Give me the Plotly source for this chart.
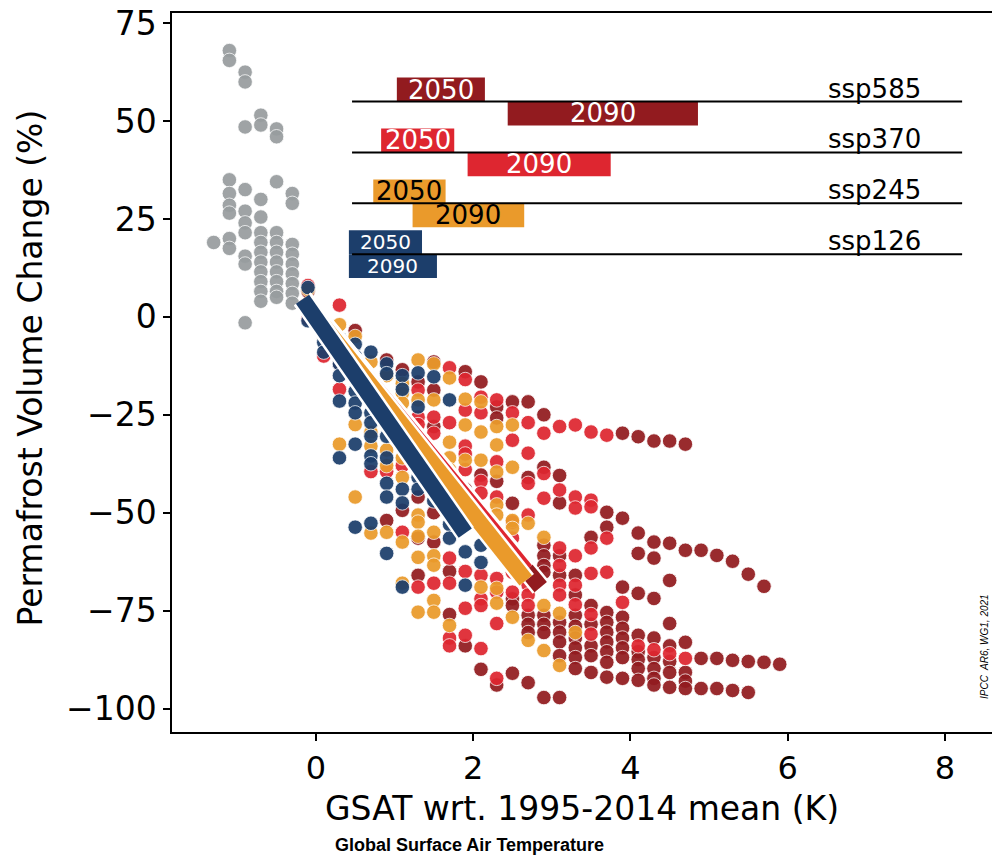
import plotly.graph_objects as go

# ---------------- data ----------------
hist_pts = [(-1.3, 19),
            (-1.1, 68), (-1.1, 65.5), (-1.1, 35), (-1.1, 31.5), (-1.1, 28.5), (-1.1, 26.5), (-1.1, 20), (-1.1, 17.5),
            (-0.9, 62.5), (-0.9, 60), (-0.9, 48.5), (-0.9, 32.5), (-0.9, 27), (-0.9, 24), (-0.9, 21.5), (-0.9, 15.5), (-0.9, 13.5), (-0.9, -1.5),
            (-0.7, 51.5), (-0.7, 49), (-0.7, 30), (-0.7, 25.5), (-0.7, 21.5), (-0.7, 19), (-0.7, 16.5), (-0.7, 14), (-0.7, 11.5), (-0.7, 9), (-0.7, 6.5), (-0.7, 4),
            (-0.5, 48), (-0.5, 46), (-0.5, 34.5), (-0.5, 21.5), (-0.5, 19), (-0.5, 16.5), (-0.5, 14), (-0.5, 11.5), (-0.5, 9), (-0.5, 6.5), (-0.5, 5),
            (-0.3, 31.5), (-0.3, 29), (-0.3, 18.5), (-0.3, 16), (-0.3, 13.5), (-0.3, 11), (-0.3, 8.5), (-0.3, 6), (-0.3, 3.5)]

ssp585_pts = [(-0.1, 6.5), (0.1, -3), (0.3, -12), (0.5, -3.5), (0.9, -11), (0.9, -52),
              (1.1, -13.5), (1.1, -49.4), (1.3, -16.6), (1.3, -46), (1.3, -56.5), (1.3, -66),
              (1.5, -11.5), (1.5, -18.7), (1.5, -28), (1.5, -50), (1.5, -57.5), (1.7, -65), (1.7, -76),
              (1.9, -14), (1.9, -84), (1.9, -44), (2.1, -16.6), (2.1, -40.4), (2.1, -90),
              (2.3, -23), (2.3, -25.8), (2.3, -94), (2.3, -42),
              (2.5, -21.7), (2.5, -47.6), (2.5, -72), (2.5, -73.7), (2.5, -91),
              (2.7, -21.7), (2.7, -41), (2.7, -76.2), (2.7, -78.5), (2.7, -80.6), (2.7, -93.4),
              (2.9, -25), (2.9, -38.4), (2.9, -58.3), (2.9, -61), (2.9, -63.5), (2.9, -65.2), (2.9, -76.2), (2.9, -78.5), (2.9, -80.6), (2.9, -97.2),
              (3.1, -40.5), (3.1, -47.5), (3.1, -61), (3.1, -66), (3.1, -78), (3.1, -80.5), (3.1, -83), (3.1, -86.5), (3.1, -97.2),
              (3.3, -66), (3.3, -71), (3.3, -76.2), (3.3, -79), (3.3, -82), (3.3, -84.5), (3.3, -87), (3.3, -89.8),
              (3.5, -56.3), (3.5, -73.7), (3.5, -78.5), (3.5, -84), (3.5, -86.5), (3.5, -90.8),
              (3.7, -49.9), (3.7, -53.7), (3.7, -75.5), (3.7, -78), (3.7, -80.5), (3.7, -83), (3.7, -85.5), (3.7, -88.2), (3.7, -92),
              (3.9, -29.7), (3.9, -51.4), (3.9, -69), (3.9, -76.7), (3.9, -79.5), (3.9, -82), (3.9, -84.5), (3.9, -87), (3.9, -92.3),
              (4.1, -30.6), (4.1, -55.2), (4.1, -60.4), (4.1, -70.6), (4.1, -81.3), (4.1, -85.5), (4.1, -87.5), (4.1, -89.8), (4.1, -92.8),
              (4.3, -31.7), (4.3, -57.5), (4.3, -61.6), (4.3, -71.9), (4.3, -82), (4.3, -87), (4.3, -89.8), (4.3, -92.3), (4.3, -94),
              (4.5, -31.7), (4.5, -57.8), (4.5, -67.3), (4.5, -78.3), (4.5, -84), (4.5, -88), (4.5, -90.8), (4.5, -94.6),
              (4.7, -32.5), (4.7, -59.6), (4.7, -83.1), (4.7, -90.8), (4.7, -93), (4.7, -94.9),
              (4.9, -59.6), (4.9, -87.2), (4.9, -94.9), (5.1, -60.9), (5.1, -87.2), (5.1, -94.9),
              (5.3, -62.4), (5.3, -87.7), (5.3, -95.4), (5.5, -65.7), (5.5, -88), (5.5, -95.9),
              (5.7, -68.8), (5.7, -88.2), (5.9, -88.7)]

ssp370_pts = [(-0.1, 8), (-0.1, -0.5), (0.1, -10), (0.3, 3), (0.3, -18.5), (0.7, -39.5), (0.9, -39.5),
              (1.1, -38), (1.1, -55), (1.3, -18.7), (1.3, -25.6), (1.3, -27.5), (1.3, -69),
              (1.5, -25.6), (1.5, -29.7), (1.5, -68), (1.5, -40),
              (1.7, -13), (1.7, -27), (1.7, -61.6), (1.7, -68), (1.7, -82), (1.7, -84), (1.7, -42),
              (1.9, -16), (1.9, -23.8), (1.9, -33), (1.9, -35), (1.9, -39), (1.9, -65), (1.9, -74.4), (1.9, -81.3),
              (2.1, -20.5), (2.1, -24.5), (2.1, -42), (2.1, -66), (2.1, -72), (2.1, -73.7), (2.1, -84.7), (2.1, -45),
              (2.3, -21.2), (2.3, -37), (2.3, -46), (2.3, -66.8), (2.3, -70.3), (2.3, -78.3), (2.3, -92.3),
              (2.5, -24.5), (2.5, -31.5), (2.5, -52.4), (2.5, -56.5), (2.5, -59), (2.5, -62), (2.5, -65.2), (2.5, -70.3),
              (2.7, -27), (2.7, -34.8), (2.7, -42.5), (2.7, -50.6), (2.7, -68.5), (2.7, -71), (2.7, -73.7),
              (2.9, -29.7), (2.9, -40), (2.9, -46.3),
              (3.1, -28), (3.1, -44.2), (3.1, -59), (3.1, -63.5), (3.1, -68.5), (3.1, -71),
              (3.3, -27.6), (3.3, -46), (3.3, -48.8), (3.3, -61), (3.3, -68.5), (3.3, -73.5),
              (3.5, -29.4), (3.5, -46.8), (3.5, -48.5), (3.5, -59), (3.5, -65.5), (3.5, -76), (3.5, -81),
              (3.7, -30.2), (3.7, -56.5), (3.7, -65.2), (3.9, -72.9),
              (4.1, -84), (4.3, -85), (4.5, -86), (4.7, -87.2)]

ssp245_pts = [(-0.1, 7), (0.1, -5), (0.3, -2), (0.3, -32.5), (0.5, -5), (0.5, -27.5), (0.5, -46),
              (0.7, -11.5), (0.7, -29.5), (0.7, -33), (0.7, -55.2),
              (0.9, -15), (0.9, -34), (0.9, -38), (0.9, -55),
              (1.1, -17), (1.1, -19.5), (1.1, -22), (1.1, -36), (1.1, -41), (1.1, -57.5), (1.1, -68),
              (1.3, -11), (1.3, -21.2), (1.3, -50.6), (1.3, -52.4), (1.3, -56), (1.3, -61.4), (1.3, -75.4),
              (1.5, -12), (1.5, -21.2), (1.5, -55), (1.5, -61), (1.5, -63.4), (1.5, -72.4), (1.5, -75.4),
              (1.7, -15.6), (1.7, -32), (1.7, -36), (1.7, -78.8), (1.7, -39),
              (1.9, -21), (1.9, -27.6), (1.9, -36.6),
              (2.1, -21.7), (2.1, -29.4), (2.1, -36.6), (2.1, -69),
              (2.3, -28), (2.3, -32.7), (2.3, -39.6), (2.3, -48), (2.3, -50.6), (2.3, -69.3), (2.3, -73.1),
              (2.5, -27.6), (2.5, -38.4), (2.5, -52), (2.5, -54), (2.5, -76.7),
              (2.7, -52.7), (2.7, -82.6), (2.9, -56.3), (2.9, -73.7), (2.9, -85.2),
              (3.1, -75.7), (3.1, -89), (3.3, -80.6)]

ssp126_pts = [(-0.1, 7.5), (-0.1, -1), (0.1, -4), (0.1, -6.5), (0.1, -9),
              (0.3, -5.5), (0.3, -9), (0.3, -12), (0.3, -15), (0.3, -21.5), (0.3, -36),
              (0.5, -7), (0.5, -10), (0.5, -13), (0.5, -16), (0.5, -19), (0.5, -22), (0.5, -24.5), (0.5, -32.5), (0.5, -53.7),
              (0.7, -9), (0.7, -24.5), (0.7, -27), (0.7, -30.5), (0.7, -35.5), (0.7, -37.5), (0.7, -52.7),
              (0.9, -12), (0.9, -14.5), (0.9, -27), (0.9, -30.5), (0.9, -36), (0.9, -42.5), (0.9, -46), (0.9, -60.4),
              (1.1, -15), (1.1, -18.5), (1.1, -44), (1.1, -47.5), (1.1, -69),
              (1.3, -14.3), (1.3, -23), (1.3, -41), (1.3, -44),
              (1.5, -15.3), (1.5, -47), (1.7, -21.2), (1.7, -53), (1.7, -56.5),
              (1.9, -60), (1.9, -68.5), (2.1, -58.3), (2.1, -62.7)]

# scenario summary rows (top-right legend boxes)
scenarios = ["ssp585", "ssp370", "ssp245", "ssp126"]
scen_colors = ["#921b1f", "#de2630", "#ea9a2b", "#1c3e6b"]
row_y = [55.0, 42.0, 29.0, 16.0]
box2050_lo = [1.03, 0.83, 0.73, 0.42]
box2050_hi = [2.15, 1.76, 1.65, 1.35]
box2090_lo = [2.44, 1.93, 1.23, 0.42]
box2090_hi = [4.86, 3.75, 2.65, 1.54]
box_text_color = ["white", "white", "black", "white"]
box_font_size = [26, 26, 26, 20]

# regression bars (start / end in data units) per scenario
reg_x0 = [-0.17, -0.17, -0.17, -0.17]
reg_y0 = [4.5, 4.5, 4.5, 4.5]
reg_x1 = [2.86, 2.67, 2.67, 1.90]
reg_y1 = [-69.0, -64.7, -67.3, -55.2]

GREY = "#989d9f"
FONT = "DejaVu Sans"

fig = go.Figure()

def add_pts(pts, color):
    fig.add_trace(go.Scatter(
        x=[p[0] for p in pts], y=[p[1] for p in pts], mode="markers",
        marker=dict(size=14.5, color=color, opacity=0.93, line=dict(color="white", width=0.8)),
        showlegend=False, hoverinfo="skip"))

add_pts(hist_pts, GREY)
add_pts(ssp585_pts, scen_colors[0])
add_pts(ssp370_pts, scen_colors[1])
add_pts(ssp245_pts, scen_colors[2])
add_pts(ssp126_pts, scen_colors[3])

for i in range(4):
    xs = [reg_x0[i], reg_x1[i]]
    ys = [reg_y0[i], reg_y1[i]]
    fig.add_trace(go.Scatter(x=xs, y=ys, mode="lines", line=dict(color="white", width=21),
                             showlegend=False, hoverinfo="skip"))
    fig.add_trace(go.Scatter(x=xs, y=ys, mode="lines", line=dict(color=scen_colors[i], width=16),
                             showlegend=False, hoverinfo="skip"))

shapes = []
annotations = []
BOX_H = 6.1
for i, name in enumerate(scenarios):
    y = row_y[i]
    shapes.append(dict(type="rect", xref="x", yref="y", x0=box2050_lo[i], x1=box2050_hi[i],
                       y0=y, y1=y + BOX_H, fillcolor=scen_colors[i], line=dict(width=0), layer="above"))
    shapes.append(dict(type="rect", xref="x", yref="y", x0=box2090_lo[i], x1=box2090_hi[i],
                       y0=y - BOX_H, y1=y, fillcolor=scen_colors[i], line=dict(width=0), layer="above"))
    shapes.append(dict(type="line", xref="x", yref="y", x0=0.46, x1=8.22, y0=y, y1=y,
                       line=dict(color="black", width=2), layer="above"))
    annotations.append(dict(x=(box2050_lo[i] + box2050_hi[i]) / 2, y=y + BOX_H / 2, xref="x", yref="y",
                            text="2050", showarrow=False,
                            font=dict(family=FONT, size=box_font_size[i], color=box_text_color[i])))
    annotations.append(dict(x=(box2090_lo[i] + box2090_hi[i]) / 2, y=y - BOX_H / 2, xref="x", yref="y",
                            text="2090", showarrow=False,
                            font=dict(family=FONT, size=box_font_size[i], color=box_text_color[i])))
    annotations.append(dict(x=7.1, y=y, xref="x", yref="y", text=name, showarrow=False,
                            yanchor="bottom", yshift=-4,
                            font=dict(family=FONT, size=26, color="black")))

# axis titles and notes
annotations.append(dict(x=0.5, y=0, xref="paper", yref="paper", yshift=-76, yanchor="middle",
                        text="GSAT wrt. 1995-2014 mean (K)", showarrow=False,
                        font=dict(family=FONT, size=33, color="black")))
annotations.append(dict(x=0.363, y=0, xref="paper", yref="paper", yshift=-113, yanchor="middle",
                        text="<b>Global Surface Air Temperature</b>", showarrow=False,
                        font=dict(family="Liberation Sans", size=18, color="black")))
annotations.append(dict(x=0, y=0.5, xref="paper", yref="paper", xshift=-142, yshift=4,
                        xanchor="center", yanchor="middle", textangle=-90,
                        text="Permafrost Volume Change (%)", showarrow=False,
                        font=dict(family=FONT, size=33, color="black")))
annotations.append(dict(x=1, y=0, xref="paper", yref="paper", xshift=-8, yshift=85,
                        xanchor="center", yanchor="middle", textangle=-90,
                        text="<i>IPCC  AR6, WG1, 2021</i>", showarrow=False,
                        font=dict(family="Liberation Sans", size=10, color="black")))

fig.update_layout(
    width=992, height=857,
    margin=dict(l=172, r=0, t=13, b=125),
    paper_bgcolor="white", plot_bgcolor="white",
    shapes=shapes, annotations=annotations,
    xaxis=dict(range=[-1.83, 8.6], tickvals=[0, 2, 4, 6, 8], ticks="outside", ticklen=7, tickwidth=1.5,
               tickcolor="black", showline=True, linecolor="black", linewidth=1.5, mirror=True,
               showgrid=False, zeroline=False, tickfont=dict(family=FONT, size=32, color="black")),
    yaxis=dict(range=[-106.0, 77.6], tickvals=[-100, -75, -50, -25, 0, 25, 50, 75], ticks="outside",
               ticklen=7, tickwidth=1.5, tickcolor="black", showline=True, linecolor="black",
               linewidth=1.5, showgrid=False, zeroline=False, ticklabelstandoff=0,
               tickfont=dict(family=FONT, size=33, color="black")),
)

fig.write_html("out.html", config={"displayModeBar": False},
               post_script="document.body.style.margin='0';document.body.style.overflow='hidden';")
